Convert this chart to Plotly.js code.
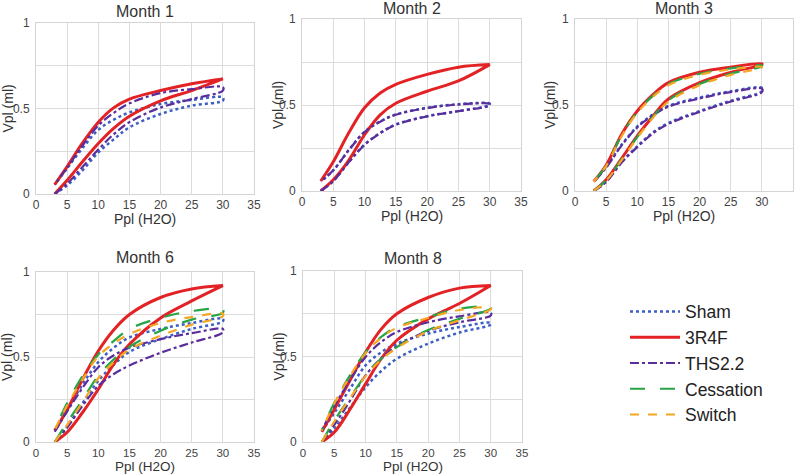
<!DOCTYPE html>
<html><head><meta charset="utf-8">
<script src="https://cdn.plot.ly/plotly-3.0.1.min.js"></script>
<style>html,body{margin:0;padding:0;background:#fff}#chart{width:798px;height:474px}</style>
</head><body><div id="chart"></div>
<script>
// Pressure points (cm H2O) used for both inflation and deflation branches
const P = [3, 5, 7.5, 10, 12.5, 15, 20, 25, 30];

const seriesNames = ['Sham', '3R4F', 'THS2.2', 'Cessation', 'Switch'];
const monthTitles = ['Month 1', 'Month 2', 'Month 3', 'Month 6', 'Month 8'];
const xTitle = 'Ppl (H2O)';
const yTitle = 'Vpl (ml)';
const yTickVals = [0, 0.25, 0.5, 0.75, 1];
const yTickText = ['0', '', '0.5', '', '1'];

// Month 1 (infl = lower branch, defl = upper branch)
const m1_sham_infl = [0, 0.05, 0.14, 0.243, 0.32, 0.39, 0.468, 0.517, 0.546];
const m1_sham_defl = [0.055, 0.15, 0.27, 0.375, 0.435, 0.477, 0.526, 0.55, 0.565];
const m1_3r4f_infl = [0, 0.08, 0.19, 0.295, 0.385, 0.455, 0.545, 0.605, 0.673];
const m1_3r4f_defl = [0.055, 0.16, 0.30, 0.42, 0.505, 0.555, 0.605, 0.645, 0.673];
const m1_ths_infl = [0, 0.06, 0.16, 0.26, 0.35, 0.42, 0.506, 0.555, 0.605];
const m1_ths_defl = [0.055, 0.155, 0.285, 0.40, 0.475, 0.53, 0.59, 0.613, 0.625];

// Month 2
const m2_sham_infl = [0, 0.058, 0.17, 0.27, 0.338, 0.387, 0.435, 0.465, 0.50];
const m2_sham_defl = [0.055, 0.12, 0.24, 0.345, 0.405, 0.445, 0.484, 0.505, 0.508];
const m2_3r4f_infl = [0, 0.065, 0.18, 0.327, 0.443, 0.51, 0.58, 0.64, 0.735];
const m2_3r4f_defl = [0.058, 0.17, 0.34, 0.484, 0.57, 0.62, 0.678, 0.72, 0.735];
const m2_ths_infl = [0, 0.058, 0.168, 0.268, 0.336, 0.385, 0.434, 0.464, 0.498];
const m2_ths_defl = [0.055, 0.12, 0.238, 0.343, 0.403, 0.443, 0.482, 0.503, 0.506];

// Month 3
const m3_sham_infl = [0, 0.055, 0.17, 0.26, 0.34, 0.395, 0.465, 0.525, 0.58];
const m3_sham_defl = [0.055, 0.14, 0.27, 0.375, 0.445, 0.495, 0.543, 0.58, 0.60];
const m3_3r4f_infl = [0, 0.065, 0.19, 0.32, 0.435, 0.535, 0.63, 0.69, 0.735];
const m3_3r4f_defl = [0.055, 0.15, 0.33, 0.465, 0.56, 0.63, 0.69, 0.72, 0.74];
const m3_ths_infl = [0, 0.052, 0.165, 0.255, 0.335, 0.39, 0.46, 0.52, 0.575];
const m3_ths_defl = [0.052, 0.135, 0.265, 0.37, 0.44, 0.49, 0.538, 0.575, 0.595];
const m3_cess_infl = [0, 0.063, 0.185, 0.315, 0.43, 0.528, 0.622, 0.682, 0.725];
const m3_cess_defl = [0.055, 0.148, 0.325, 0.46, 0.553, 0.622, 0.682, 0.713, 0.73];
const m3_sw_infl = [0, 0.06, 0.18, 0.31, 0.425, 0.52, 0.615, 0.675, 0.718];
const m3_sw_defl = [0.055, 0.145, 0.32, 0.455, 0.548, 0.615, 0.676, 0.707, 0.722];

// Month 6
const m6_sham_infl = [0, 0.09, 0.23, 0.36, 0.455, 0.53, 0.605, 0.665, 0.71];
const m6_sham_defl = [0.065, 0.19, 0.34, 0.47, 0.555, 0.615, 0.665, 0.70, 0.725];
const m6_3r4f_infl = [0, 0.057, 0.175, 0.31, 0.46, 0.575, 0.73, 0.83, 0.92];
const m6_3r4f_defl = [0.067, 0.19, 0.37, 0.535, 0.66, 0.75, 0.85, 0.90, 0.92];
const m6_ths_infl = [0, 0.085, 0.215, 0.33, 0.40, 0.45, 0.525, 0.585, 0.645];
const m6_ths_defl = [0.06, 0.18, 0.32, 0.44, 0.51, 0.555, 0.605, 0.64, 0.665];
const m6_cess_infl = [0, 0.115, 0.25, 0.39, 0.487, 0.56, 0.655, 0.72, 0.76];
const m6_cess_defl = [0.075, 0.23, 0.39, 0.515, 0.595, 0.665, 0.73, 0.77, 0.78];
const m6_sw_infl = [0, 0.1, 0.235, 0.375, 0.47, 0.545, 0.625, 0.69, 0.74];
const m6_sw_defl = [0.07, 0.215, 0.37, 0.505, 0.58, 0.635, 0.70, 0.735, 0.755];

// Month 8
const m8_sham_infl = [0, 0.08, 0.2, 0.32, 0.415, 0.487, 0.575, 0.64, 0.687];
const m8_sham_defl = [0.06, 0.17, 0.31, 0.448, 0.525, 0.575, 0.634, 0.672, 0.697];
const m8_3r4f_infl = [0, 0.057, 0.19, 0.34, 0.487, 0.595, 0.72, 0.81, 0.915];
const m8_3r4f_defl = [0.06, 0.19, 0.36, 0.525, 0.66, 0.75, 0.845, 0.90, 0.915];
const m8_ths_infl = [0, 0.1, 0.24, 0.39, 0.49, 0.56, 0.65, 0.70, 0.74];
const m8_ths_defl = [0.065, 0.21, 0.36, 0.497, 0.585, 0.643, 0.70, 0.735, 0.757];
const m8_cess_infl = [0, 0.125, 0.26, 0.39, 0.487, 0.555, 0.655, 0.72, 0.78];
const m8_cess_defl = [0.067, 0.23, 0.39, 0.525, 0.615, 0.673, 0.73, 0.78, 0.79];
const m8_sw_infl = [0, 0.12, 0.255, 0.385, 0.482, 0.55, 0.648, 0.712, 0.775];
const m8_sw_defl = [0.067, 0.225, 0.385, 0.52, 0.61, 0.668, 0.725, 0.772, 0.785];

const styles = {
  'Sham':      {color: '#3d5ec4', dash: 'dot',      width: 2.5},
  '3R4F':      {color: '#e32226', dash: 'solid',    width: 3},
  'THS2.2':    {color: '#5a2d9c', dash: 'dashdot',  width: 2.2},
  'Cessation': {color: '#27a446', dash: 'longdash', width: 2.2},
  'Switch':    {color: '#f5a623', dash: 'dash',     width: 2.2}
};

const months = [
  {ax: '', data: {'Sham': [m1_sham_infl, m1_sham_defl], '3R4F': [m1_3r4f_infl, m1_3r4f_defl], 'THS2.2': [m1_ths_infl, m1_ths_defl]}},
  {ax: '2', data: {'Sham': [m2_sham_infl, m2_sham_defl], '3R4F': [m2_3r4f_infl, m2_3r4f_defl], 'THS2.2': [m2_ths_infl, m2_ths_defl]}},
  {ax: '3', data: {'Sham': [m3_sham_infl, m3_sham_defl], '3R4F': [m3_3r4f_infl, m3_3r4f_defl], 'THS2.2': [m3_ths_infl, m3_ths_defl], 'Cessation': [m3_cess_infl, m3_cess_defl], 'Switch': [m3_sw_infl, m3_sw_defl]}},
  {ax: '4', data: {'Sham': [m6_sham_infl, m6_sham_defl], '3R4F': [m6_3r4f_infl, m6_3r4f_defl], 'THS2.2': [m6_ths_infl, m6_ths_defl], 'Cessation': [m6_cess_infl, m6_cess_defl], 'Switch': [m6_sw_infl, m6_sw_defl]}},
  {ax: '5', data: {'Sham': [m8_sham_infl, m8_sham_defl], '3R4F': [m8_3r4f_infl, m8_3r4f_defl], 'THS2.2': [m8_ths_infl, m8_ths_defl], 'Cessation': [m8_cess_infl, m8_cess_defl], 'Switch': [m8_sw_infl, m8_sw_defl]}}
];

const traces = [];
months.forEach(m => {
  seriesNames.forEach(name => {
    const d = m.data[name];
    if (!d) return;
    const xs = P.concat(P.slice().reverse());
    const ys = d[0].concat(d[1].slice().reverse());
    const st = styles[name];
    traces.push({
      x: xs, y: ys, type: 'scatter', mode: 'lines', name: name,
      xaxis: 'x' + m.ax, yaxis: 'y' + m.ax,
      line: {color: st.color, dash: st.dash, width: st.width, shape: 'spline', smoothing: 1},
      showlegend: m.ax === '4',
      hoverinfo: 'skip'
    });
  });
});

const W = 798, H = 474;
function dx(a, b) { return [a / W, b / W]; }
function dy(top, bottom) { return [(H - bottom) / H, (H - top) / H]; }
const domains = [
  {x: dx(36, 254), y: dy(23, 194)},
  {x: dx(302, 521), y: dy(19, 191)},
  {x: dx(575, 793), y: dy(19, 191)},
  {x: dx(36, 254), y: dy(272, 442)},
  {x: dx(303, 522), y: dy(271, 442)}
];
// text anchor positions (pixels from top-left)
const titleY = [11, 8.5, 9, 257.5, 258];
const xTitleY = [219, 216, 216, 466.5, 466.5];
const xTitleSize = [14, 14, 14, 13.5, 13.5];
const yTitleX = [7, 278, 550, 7, 278];

const font = 'Liberation Sans, Arial, sans-serif';
const layout = {
  width: W, height: H,
  margin: {l: 0, r: 0, t: 0, b: 0},
  paper_bgcolor: '#fff', plot_bgcolor: '#fff',
  font: {family: font, color: '#333', size: 12},
  showlegend: true,
  legend: {x: 625 / W, y: 0.3805, xanchor: 'left', yanchor: 'top',
           font: {size: 17.5, color: '#222', family: font},
           bgcolor: 'rgba(0,0,0,0)', tracegroupgap: 0, itemwidth: 50},
  annotations: [],
};
const axIds = ['', '2', '3', '4', '5'];
axIds.forEach((a, i) => {
  layout['xaxis' + a] = {
    domain: domains[i].x, anchor: 'y' + a, range: [0, 35], dtick: 5, tick0: 0,
    showgrid: true, gridcolor: '#dcdcdc', gridwidth: 1, zeroline: false,
    showline: true, linecolor: '#d4d4d4', mirror: true, ticks: '',
    tickfont: {size: i >= 3 ? 11.5 : 12, color: '#444'}, ticklabelstandoff: 0
  };
  layout['yaxis' + a] = {
    domain: domains[i].y, anchor: 'x' + a, range: [0, 1],
    tickvals: yTickVals, ticktext: yTickText,
    showgrid: true, gridcolor: '#dcdcdc', gridwidth: 1, zeroline: false,
    showline: true, linecolor: '#d4d4d4', mirror: true, ticks: '',
    tickfont: {size: 12, color: '#444'}, ticklabelstandoff: 3
  };
  const cx = (domains[i].x[0] + domains[i].x[1]) / 2;
  const cy = (domains[i].y[0] + domains[i].y[1]) / 2;
  layout.annotations.push({
    text: monthTitles[i], showarrow: false, xref: 'paper', yref: 'paper',
    x: cx, y: 1 - titleY[i] / H, xanchor: 'center', yanchor: 'middle',
    font: {size: 16, color: '#333', family: font, weight: 'normal'}
  });
  layout.annotations.push({
    text: xTitle, showarrow: false, xref: 'paper', yref: 'paper',
    x: cx, y: 1 - xTitleY[i] / H, xanchor: 'center', yanchor: 'middle',
    font: {size: xTitleSize[i], color: '#333', family: font}
  });
  layout.annotations.push({
    text: yTitle, showarrow: false, xref: 'paper', yref: 'paper', textangle: -90,
    x: yTitleX[i] / W, y: cy, xanchor: 'center', yanchor: 'middle',
    font: {size: 14, color: '#333', family: font}
  });
});

Plotly.newPlot('chart', traces, layout, {staticPlot: true, displayModeBar: false});
</script></body></html>
